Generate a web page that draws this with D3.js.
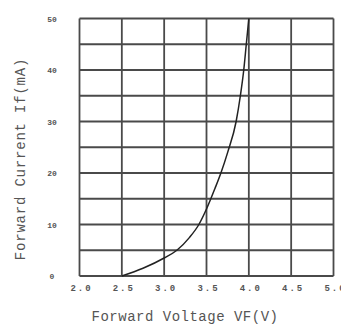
<!DOCTYPE html>
<html><head><meta charset="utf-8">
<script src="https://cdn.jsdelivr.net/npm/d3@7"></script>
<style>body{margin:0;background:#fff}svg{display:block}</style>
</head><body>
<script>
const voltage = [2.5, 2.75, 3.0, 3.15, 3.3, 3.41, 3.5, 3.6, 3.67, 3.75, 3.85, 3.9, 3.94, 3.97, 4.0];
const current = [0, 1.5, 3.5, 5, 7.5, 10, 13, 17, 20, 24, 30, 35, 40, 45, 50];
const xTicks = [2.0, 2.5, 3.0, 3.5, 4.0, 4.5, 5.0];
const yGrid = [0, 5, 10, 15, 20, 25, 30, 35, 40, 45, 50];
const yLabels = [0, 10, 20, 30, 40, 50];
const xTitle = "Forward Voltage VF(V)";
const yTitle = "Forward Current If(mA)";

const W = 341, H = 327;
const m = {l: 79.5, r: 333.5, t: 18.5, b: 276};
const svg = d3.select("body").append("svg").attr("width", W).attr("height", H);
const x = d3.scaleLinear().domain([2, 5]).range([m.l, m.r]);
const y = d3.scaleLinear().domain([0, 50]).range([m.b, m.t]);
const font = "'Liberation Mono', 'DejaVu Sans Mono', monospace";
const grid = "#4a4a4a";

svg.append("g").selectAll("line").data(xTicks).join("line")
  .attr("x1", d => x(d)).attr("x2", d => x(d)).attr("y1", m.t).attr("y2", m.b)
  .attr("stroke", grid).attr("stroke-width", 1.8);
svg.append("g").selectAll("line").data(yGrid).join("line")
  .attr("y1", d => y(d)).attr("y2", d => y(d)).attr("x1", m.l).attr("x2", m.r)
  .attr("stroke", grid).attr("stroke-width", 1.8);

svg.append("g").selectAll("text").data(xTicks).join("text")
  .attr("x", d => x(d) + 2).attr("y", 291).attr("text-anchor", "middle")
  .attr("font-family", font).attr("font-size", 9).attr("font-weight", "bold")
  .attr("letter-spacing", 2).attr("fill", "#555").text(d => d.toFixed(1));
svg.append("g").selectAll("text").data(yLabels).join("text")
  .attr("x", 52).attr("y", d => y(d) + 3).attr("text-anchor", "middle")
  .attr("font-family", font).attr("font-size", 8).attr("font-weight", "bold")
  .attr("fill", "#555").text(d => d);

const line = d3.line().x(d => x(d[0])).y(d => y(d[1])).curve(d3.curveMonotoneX);
svg.append("path").datum(voltage.map((v, i) => [v, current[i]]))
  .attr("d", line).attr("fill", "none").attr("stroke", "#222").attr("stroke-width", 1.5);

svg.append("text").attr("x", 185).attr("y", 321).attr("text-anchor", "middle")
  .attr("font-family", font).attr("font-size", 14).attr("letter-spacing", 0.5)
  .attr("fill", "#555").text(xTitle);
svg.append("text").attr("transform", "translate(25,159) rotate(-90)").attr("text-anchor", "middle")
  .attr("font-family", font).attr("font-size", 14).attr("letter-spacing", 0.8)
  .attr("fill", "#555").text(yTitle);
</script>
</body></html>
